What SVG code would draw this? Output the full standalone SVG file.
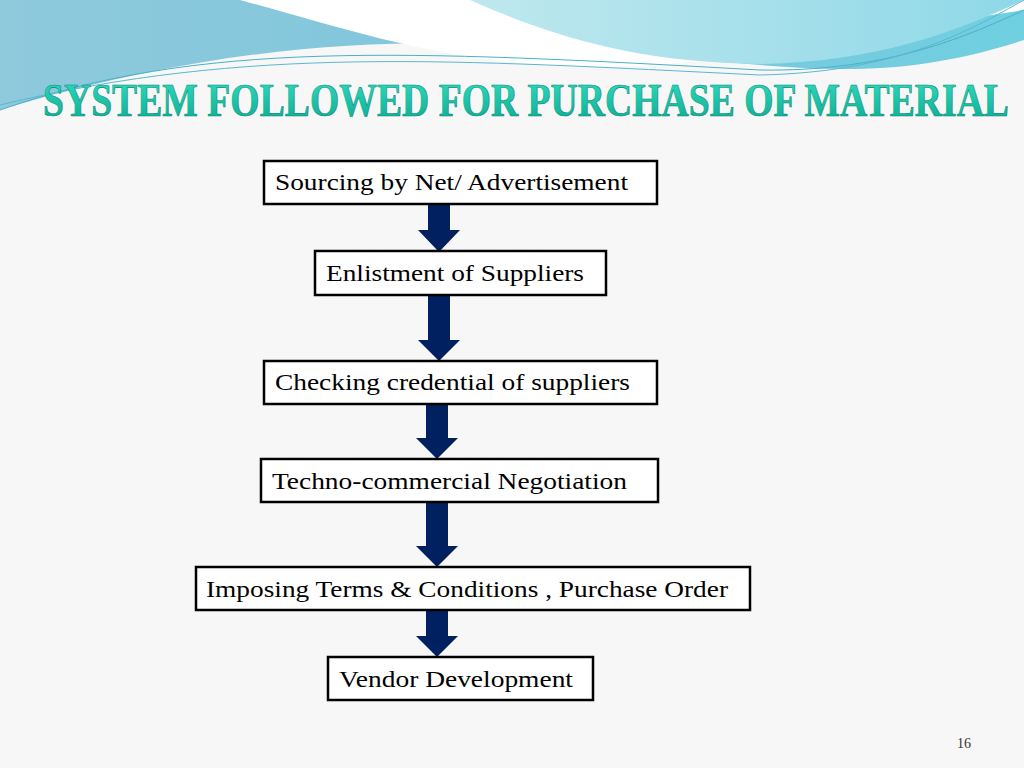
<svg xmlns="http://www.w3.org/2000/svg" width="1024" height="768" viewBox="0 0 1024 768">
<defs>
<linearGradient id="bg1" x1="0" y1="0" x2="1" y2="0"><stop offset="0" stop-color="#8ec9dc"/><stop offset="0.6" stop-color="#7cc6dc"/><stop offset="1" stop-color="#6fd0e0"/></linearGradient>
<linearGradient id="bg2" x1="0" y1="0" x2="1" y2="0"><stop offset="0" stop-color="#bfe8ee"/><stop offset="1" stop-color="#8fd8e8"/></linearGradient>
<linearGradient id="tt" x1="0" y1="0" x2="0" y2="1"><stop offset="0" stop-color="#2fe0c0"/><stop offset="1" stop-color="#0aa890"/></linearGradient>
<g id="arr"><path d="M-11,0 H11 V26 H21 L0,48 L-21,26 H-11 Z" fill="#002060"/></g>
</defs>
<style>
.box{fill:#fff;stroke:#000;stroke-width:2.5}
.t{font-family:"Liberation Serif",serif;font-size:24px;fill:#000}
</style>
<rect width="1024" height="768" fill="#f7f7f7"/>
<path d="M0,0 H1024 V40 C900,80 820,70 700,60 C500,40 300,20 0,110 Z" fill="url(#bg1)"/>
<path d="M240,0 C350,30 420,55 540,65 C700,75 820,40 1024,10 V0 Z" fill="#ffffff"/>
<path d="M470,0 C560,40 640,62 760,64 C880,62 960,30 1024,0 Z" fill="url(#bg2)"/>
<path d="M0,110 C200,40 400,50 760,70 C880,72 960,40 1024,10" fill="none" stroke="#4ab0c8" stroke-width="1"/>
<path d="M0,105 C250,45 450,60 760,75 C900,72 970,30 1024,0" fill="none" stroke="#5ab8d0" stroke-width="1"/>
<text x="43" y="116" textLength="966" lengthAdjust="spacingAndGlyphs" font-family="Liberation Serif,serif" font-weight="bold" font-size="46" fill="url(#tt)" stroke="#0a8a78" stroke-width="0.6">SYSTEM FOLLOWED FOR PURCHASE OF MATERIAL</text>
<g id="connectors">
<use href="#arr" x="439" y="204"/>
<path d="M428,295 H450 V340 H460 L439,361 L418,340 H428 Z" fill="#002060"/>
<path d="M426,404 H448 V438 H458 L437,459 L416,438 H426 Z" fill="#002060"/>
<path d="M426,502 H448 V546 H458 L437,567 L416,546 H426 Z" fill="#002060"/>
<path d="M426,610 H448 V636 H458 L437,657 L416,636 H426 Z" fill="#002060"/>
</g>
<g id="n1"><rect class="box" x="264" y="161" width="393" height="43"/><text class="t" x="275" y="190" textLength="353" lengthAdjust="spacingAndGlyphs">Sourcing by Net/ Advertisement</text></g>
<g id="n2"><rect class="box" x="315" y="251" width="291" height="44"/><text class="t" x="326" y="281" textLength="258" lengthAdjust="spacingAndGlyphs">Enlistment of Suppliers</text></g>
<g id="n3"><rect class="box" x="264" y="361" width="393" height="43"/><text class="t" x="275" y="390" textLength="355" lengthAdjust="spacingAndGlyphs">Checking credential of suppliers</text></g>
<g id="n4"><rect class="box" x="261" y="459" width="397" height="43"/><text class="t" x="272" y="489" textLength="355" lengthAdjust="spacingAndGlyphs">Techno-commercial Negotiation</text></g>
<g id="n5"><rect class="box" x="196" y="567" width="554" height="43"/><text class="t" x="206" y="597" textLength="522" lengthAdjust="spacingAndGlyphs">Imposing Terms &amp; Conditions , Purchase Order</text></g>
<g id="n6"><rect class="box" x="328" y="657" width="265" height="43"/><text class="t" x="339" y="687" textLength="234" lengthAdjust="spacingAndGlyphs">Vendor Development</text></g>
<text x="957" y="748" font-family="Liberation Serif,serif" font-size="14" fill="#333">16</text>
</svg>
